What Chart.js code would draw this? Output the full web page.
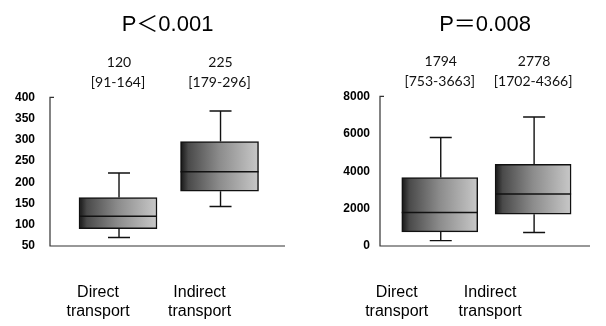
<!DOCTYPE html>
<html>
<head>
<meta charset="utf-8">
<script src="https://cdn.jsdelivr.net/npm/chart.js@4.4.1/dist/chart.umd.min.js"></script>
<style>
  body { margin: 0; background: #fff; }
  #wrap { position: relative; width: 606px; height: 326px; }
  canvas { position: absolute; top: 0; }
</style>
</head>
<body>
<div id="wrap">
  <canvas id="left" width="303" height="326" style="left:0"></canvas>
  <canvas id="right" width="303" height="326" style="left:303px"></canvas>
</div>
<script>
// data
var categories = [['Direct', 'transport'], ['Indirect', 'transport']];

var leftTitle = 'P＜0.001';
var leftQ1 = [91, 179];
var leftMedian = [120, 225];
var leftQ3 = [164, 296];
var leftLow = [70, 143];
var leftHigh = [222, 368];
var leftYTicks = [50, 100, 150, 200, 250, 300, 350, 400];

var rightTitle = 'P＝0.008';
var rightQ1 = [753, 1702];
var rightMedian = [1794, 2778];
var rightQ3 = [3663, 4366];
var rightLow = [290, 720];
var rightHigh = [5800, 6900];
var rightYTicks = [0, 2000, 4000, 6000, 8000];

var arial = "'Liberation Sans', Arial, 'Noto Sans CJK JP', sans-serif";

// axis lines (left + bottom only)
var axisLines = {
    id: 'axisLines',
    beforeDatasetsDraw: function (chart) {
        var a = chart.chartArea, c = chart.ctx;
        c.save();
        c.strokeStyle = '#333';
        c.lineWidth = 1.2;
        c.beginPath();
        c.moveTo(a.left + 4, a.top);
        c.lineTo(a.left, a.top);
        c.lineTo(a.left, a.bottom);
        c.lineTo(a.right, a.bottom);
        c.stroke();
        c.restore();
    }
};

// draws median, whiskers and the median [IQR] text above each box
var boxExtras = {
    id: 'boxExtras',
    afterDatasetsDraw: function (chart) {
        var o = chart.options.plugins.boxExtras;
        var xs = chart.scales.x, ys = chart.scales.y;
        var c = chart.ctx;
        c.save();
        c.strokeStyle = '#111';
        for (var i = 0; i < o.median.length; i++) {
            var cx = xs.getPixelForValue(i + 1);
            var half = o.boxWidth / 2;
            // median
            c.lineWidth = 1.6;
            c.beginPath();
            var my = ys.getPixelForValue(o.median[i]);
            c.moveTo(cx - half, my); c.lineTo(cx + half, my);
            c.stroke();
            // whiskers
            c.lineWidth = 1.4;
            var wx = cx + 1;
            c.beginPath();
            c.moveTo(wx, ys.getPixelForValue(o.q3[i])); c.lineTo(wx, ys.getPixelForValue(o.high[i]));
            c.moveTo(wx, ys.getPixelForValue(o.q1[i])); c.lineTo(wx, ys.getPixelForValue(o.low[i]));
            c.moveTo(wx - 11, ys.getPixelForValue(o.high[i])); c.lineTo(wx + 11, ys.getPixelForValue(o.high[i]));
            c.moveTo(wx - 11, ys.getPixelForValue(o.low[i])); c.lineTo(wx + 11, ys.getPixelForValue(o.low[i]));
            c.stroke();
            // text
            c.fillStyle = '#111';
            c.font = '14px Lato, sans-serif';
            c.textAlign = 'center';
            c.textBaseline = 'middle';
            var top = chart.chartArea.top;
            c.fillText(String(o.median[i]), cx + 1, top - 35);
            c.fillText('[' + o.q1[i] + '-' + o.q3[i] + ']', cx, top - 15);
        }
        c.restore();
    }
};

function makeChart(id, s) {
    var pts = [];
    for (var i = 0; i < s.q1.length; i++) {
        pts.push({ x: i + 1, y: [s.q1[i], s.q3[i]] });
    }
    return new Chart(document.getElementById(id), {
        type: 'bar',
        data: {
            datasets: [{
                data: pts,
                barThickness: s.boxWidth,
                borderColor: '#111',
                borderWidth: 1.5,
                borderSkipped: false,
                backgroundColor: function (ctx) {
                    var chart = ctx.chart;
                    if (!chart.chartArea || ctx.type !== 'data') return '#888';
                    var cx = chart.scales.x.getPixelForValue(ctx.dataIndex + 1);
                    var g = chart.ctx.createLinearGradient(cx - s.boxWidth / 2, 0, cx + s.boxWidth / 2, 0);
                    g.addColorStop(0, '#151515');
                    g.addColorStop(0.1, '#4a4a4a');
                    g.addColorStop(0.5, '#8c8c8c');
                    g.addColorStop(1, '#c8c8c8');
                    return g;
                }
            }]
        },
        options: {
            responsive: false,
            animation: false,
            devicePixelRatio: 1,
            layout: { padding: { left: 0, right: s.padRight, bottom: 0 } },
            plugins: {
                legend: { display: false },
                tooltip: { enabled: false },
                title: {
                    display: true,
                    text: s.title,
                    fullSize: false,
                    color: '#000',
                    font: { family: arial, size: 22, weight: 'normal' },
                    padding: { top: 12, bottom: s.titleGap }
                },
                boxExtras: {
                    q1: s.q1, q3: s.q3, median: s.median, low: s.low, high: s.high,
                    boxWidth: s.boxWidth
                }
            },
            scales: {
                x: {
                    type: 'linear',
                    min: s.xMin,
                    max: s.xMax,
                    offset: false,
                    grid: { display: false, drawTicks: false },
                    border: { display: false },
                    afterBuildTicks: function (scale) {
                        scale.ticks = categories.map(function (c, i) { return { value: i + 1 }; });
                    },
                    afterFit: function (scale) { scale.height = 80; },
                    ticks: {
                        autoSkip: false,
                        maxRotation: 0,
                        padding: 37,
                        labelOffset: s.labelOffset,
                        color: '#000',
                        font: { family: arial, size: 16 },
                        callback: function (v, i) { return categories[i]; }
                    }
                },
                y: {
                    min: s.yTicks[0],
                    max: s.yTicks[s.yTicks.length - 1],
                    grid: { display: false, drawTicks: false },
                    border: { display: false },
                    afterBuildTicks: function (scale) {
                        scale.ticks = s.yTicks.map(function (v) { return { value: v }; });
                    },
                    afterFit: function (scale) { scale.width = s.axisLeft; },
                    ticks: {
                        padding: s.tickPad,
                        color: '#000',
                        font: { family: arial, size: 12, weight: 'bold' },
                        callback: function (v) { return String(v); }
                    }
                }
            }
        },
        plugins: [axisLines, boxExtras]
    });
}

makeChart('left', {
    title: leftTitle, q1: leftQ1, median: leftMedian, q3: leftQ3, low: leftLow, high: leftHigh,
    yTicks: leftYTicks, xMin: 0.33, xMax: 2.645, axisLeft: 50, padRight: 18, tickPad: 15,
    boxWidth: 78, labelOffset: -20, titleGap: 59
});

makeChart('right', {
    title: rightTitle, q1: rightQ1, median: rightMedian, q3: rightQ3, low: rightLow, high: rightHigh,
    yTicks: rightYTicks, xMin: 0.36, xMax: 2.61, axisLeft: 77, padRight: 1, tickPad: 10,
    boxWidth: 76, labelOffset: -43, titleGap: 58
});
</script>
</body>
</html>
